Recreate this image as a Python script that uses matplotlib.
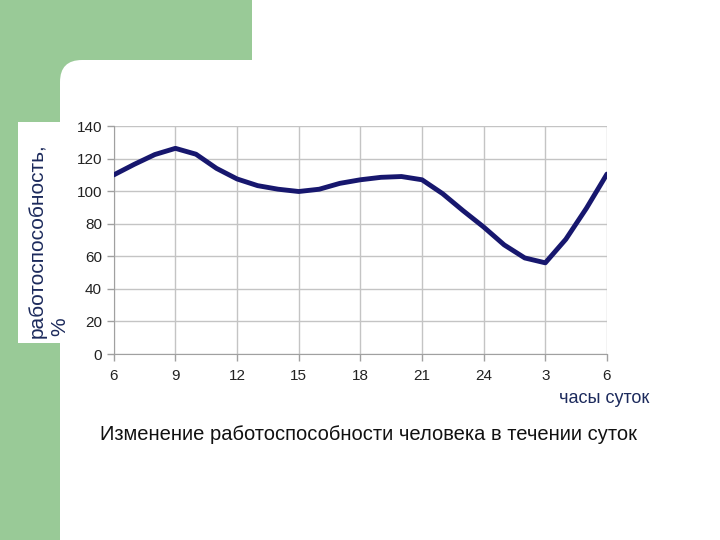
import matplotlib

matplotlib.use("Agg")
import matplotlib.pyplot as plt
from matplotlib.patches import Rectangle, FancyBboxPatch

plt.rcParams["font.family"] = ["Liberation Sans", "DejaVu Sans"]

# hours since 6:00, work capacity in %
hours = list(range(25))
capacity = [110, 116.5, 122.5, 126.3, 122.7, 114, 107.5, 103.4, 101.2, 99.8,
            101.2, 104.8, 107, 108.5, 109, 107, 98.5, 88, 78, 67,
            59, 56, 70.5, 89.5, 110.5]
tick_pos = [0, 3, 6, 9, 12, 15, 18, 21, 24]
tick_labels = ["6", "9", "12", "15", "18", "21", "24", "3", "6"]
y_ticks = [0, 20, 40, 60, 80, 100, 120, 140]

GREEN = "#99ca97"
NAVY = "#17176e"

fig = plt.figure(figsize=(7.2, 5.4), dpi=100)

# ── background decoration (pixel coords) ─────────────────────────────────────
bg = fig.add_axes([0, 0, 1, 1], zorder=0)
bg.set_xlim(0, 720)
bg.set_ylim(540, 0)
bg.axis("off")
bg.add_patch(Rectangle((0, 0), 60, 540, color=GREEN, lw=0))
bg.add_patch(Rectangle((0, 0), 252, 60, color=GREEN, lw=0))
bg.add_patch(Rectangle((55, 55), 40, 40, color=GREEN, lw=0))
bg.add_patch(FancyBboxPatch((60, 60), 800, 600,
                            boxstyle="round,pad=0,rounding_size=22",
                            fc="white", ec="none"))
bg.add_patch(Rectangle((18, 122), 56, 221, color="white", lw=0))

# ── chart ─────────────────────────────────────────────────────────────────────
ax = fig.add_axes([0.158, 0.3444, 0.685, 0.4222], zorder=1)
ax.patch.set_alpha(0)
ax.plot(hours, capacity, color=NAVY, lw=3.5, solid_capstyle="round",
        solid_joinstyle="round", zorder=3)

ax.set_xlim(0, 24)
ax.set_ylim(0, 140)
ax.set_xticks(tick_pos)
ax.set_xticklabels(tick_labels)
ax.set_yticks(y_ticks)
ax.grid(True, color="#c4c4c4", lw=1)
for side in ["top", "right"]:
    ax.spines[side].set_visible(False)
for side in ["left", "bottom"]:
    ax.spines[side].set_color("#a0a0a0")
ax.tick_params(axis="both", colors="#a0a0a0", labelcolor="#222222",
               labelsize=11, length=5, width=1)
ax.tick_params(axis="x", pad=6)

fig.text(0.052, 0.554, "работоспособность,", rotation=90, ha="center",
         va="center", fontsize=15, color="#1c2a5c")
fig.text(0.083, 0.395, "%", rotation=90, ha="center", va="center",
         fontsize=15, color="#1c2a5c")
fig.text(0.839, 0.262, "часы суток", ha="center", va="center",
         fontsize=13, color="#1c2a5c")
fig.text(0.512, 0.195, "Изменение работоспособности человека в течении суток",
         ha="center", va="center", fontsize=14.5, color="#111111")

fig.savefig("out.png", dpi=100)
